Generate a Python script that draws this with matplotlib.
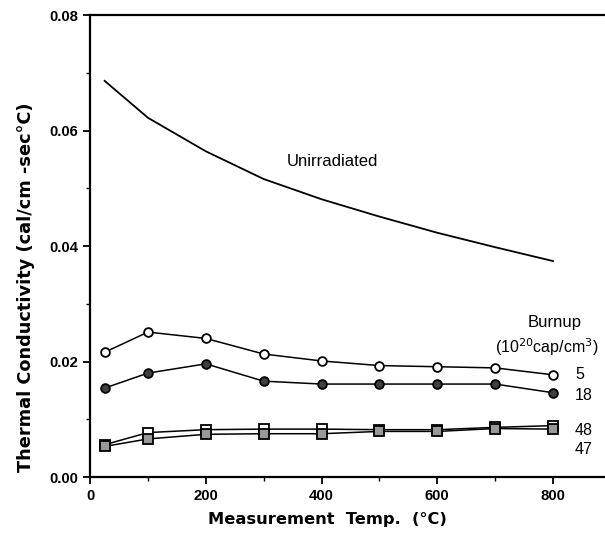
import matplotlib
matplotlib.use("Agg")
import matplotlib.pyplot as plt

plt.rcParams['font.family'] = ['Liberation Sans', 'DejaVu Sans']

# unirradiated curve
t_unirr = [25, 100, 200, 300, 400, 500, 600, 700, 800]
k_unirr = [0.0686, 0.0622, 0.0564, 0.0516, 0.0481, 0.0451, 0.0423, 0.0398, 0.0374]

# burnup series (10^20 cap/cm^3)
temps = [25, 100, 200, 300, 400, 500, 600, 700, 800]
k_5 = [0.0216, 0.0251, 0.0240, 0.0213, 0.0201, 0.0193, 0.0191, 0.0189, 0.0177]
k_18 = [0.0154, 0.0180, 0.0196, 0.0166, 0.0161, 0.0161, 0.0161, 0.0161, 0.0146]
k_48 = [0.0056, 0.0077, 0.0082, 0.0083, 0.0083, 0.0082, 0.0082, 0.0086, 0.0089]
k_47 = [0.0053, 0.0066, 0.0074, 0.0075, 0.0075, 0.0079, 0.0079, 0.0084, 0.0083]

fig = plt.figure(figsize=(6.05, 5.36), dpi=100)
ax = fig.add_axes([0.149, 0.110, 0.851, 0.862])

ax.plot(t_unirr, k_unirr, color='black', lw=1.3)
ax.plot(temps, k_5, '-o', color='black', lw=1.1, mfc='white', mec='black', ms=6.3, mew=1.3)
ax.plot(temps, k_18, '-o', color='black', lw=1.1, mfc='0.25', mec='black', ms=6.3, mew=1.3)
ax.plot(temps, k_48, '-s', color='black', lw=1.1, mfc='white', mec='black', ms=7, mew=1.3)
ax.plot(temps, k_47, '-s', color='black', lw=1.1, mfc='0.6', mec='black', ms=7, mew=1.3)

ax.text(340, 0.0547, 'Unirradiated', fontsize=12, ha='left', va='center')
ax.text(803, 0.0268, 'Burnup', fontsize=12, ha='center', va='center')
ax.text(790, 0.0225, r'(10$^{20}$cap/cm$^3$)', fontsize=11.5, ha='center', va='center')
ax.text(838, 0.0177, '5', fontsize=11.5, ha='left', va='center')
ax.text(838, 0.0142, '18', fontsize=11.5, ha='left', va='center')
ax.text(838, 0.0080, '48', fontsize=11.5, ha='left', va='center')
ax.text(838, 0.0048, '47', fontsize=11.5, ha='left', va='center')

ax.set_xlim(0, 890)
ax.set_ylim(0, 0.08)
ax.set_xticks([0, 200, 400, 600, 800])
ax.set_xticks(range(100, 900, 200), minor=True)
ax.set_yticks([0.00, 0.02, 0.04, 0.06, 0.08])
ax.set_yticklabels(['0.00', '0.02', '0.04', '0.06', '0.08'])
ax.set_yticks([0.01, 0.03, 0.05, 0.07], minor=True)

ax.spines['right'].set_visible(False)
for s in ['left', 'bottom', 'top']:
    ax.spines[s].set_linewidth(1.6)
ax.tick_params(which='major', direction='out', length=5, width=1.3, labelsize=10.7)
ax.tick_params(which='minor', direction='out', length=3, width=1.0)
for lab in ax.get_xticklabels() + ax.get_yticklabels():
    lab.set_fontweight('bold')

ax.set_xlabel('Measurement  Temp.  (\u00b0C)', fontsize=11.7, fontweight='bold',
              family='DejaVu Sans', labelpad=7)
ax.xaxis.set_label_coords(0.46, -0.075)
ax.set_ylabel('Thermal Conductivity (cal/cm -sec\u00b0C)', fontsize=12.8, fontweight='bold',
              family='DejaVu Sans')
ax.yaxis.set_label_coords(-0.108, 0.41)

fig.savefig('out.png', dpi=100)
